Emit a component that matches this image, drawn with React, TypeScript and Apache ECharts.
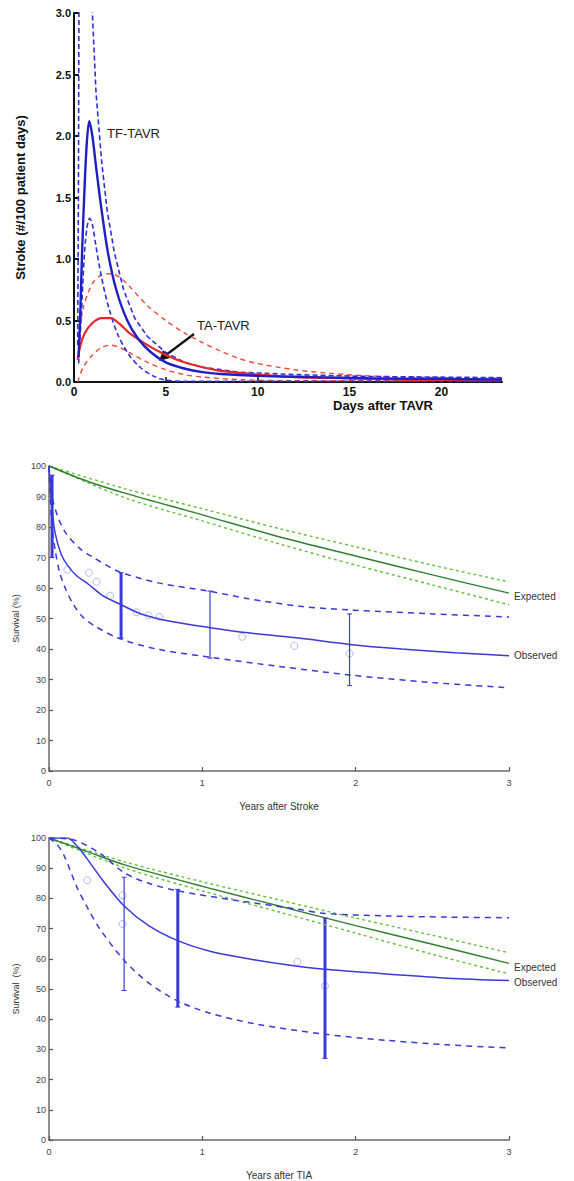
import React, { useEffect, useRef } from "react";
import * as echarts from "echarts";

// ---------- Top chart: stroke hazard (days after TAVR) ----------
const TOP_X_TICKS = [0, 5, 10, 15, 20];
const TF_MEAN = [[0.25,0.2],[0.35,0.6],[0.45,1.1],[0.58,1.6],[0.7,1.95],[0.83,2.12],[1.0,2.0],[1.2,1.75],[1.5,1.4],[1.85,1.05],[2.3,0.75],[2.9,0.5],[3.5,0.35],[4.2,0.24],[5,0.16],[6,0.11],[7,0.08],[8,0.065],[10,0.05],[13,0.04],[16,0.03],[20,0.025],[23.3,0.02]];
const TF_UPPER = [[0.2,0.3],[0.24,1.5],[0.28,3.6],[0.4,6],[0.8,6],[0.95,3.4],[1.0,3.0],[1.2,2.35],[1.5,1.8],[1.8,1.4],[2.2,1.05],[2.7,0.75],[3.3,0.52],[4,0.37],[5,0.24],[6,0.16],[7,0.12],[9,0.08],[12,0.06],[16,0.045],[23.3,0.035]];
const TF_LOWER = [[0.25,0.15],[0.4,0.55],[0.55,1.0],[0.7,1.25],[0.85,1.33],[1.0,1.28],[1.2,1.1],[1.5,0.85],[1.9,0.6],[2.4,0.38],[3,0.22],[3.6,0.12],[4.3,0.05],[5,0.015],[6,0.005],[23.3,0.005]];
const TA_MEAN = [[0.2,0.18],[0.35,0.3],[0.6,0.4],[1,0.48],[1.5,0.52],[2,0.52],[2.5,0.47],[3,0.4],[4,0.3],[5,0.22],[6,0.16],[7,0.12],[8,0.09],[10,0.06],[12,0.04],[15,0.03],[18,0.02],[23.3,0.015]];
const TA_UPPER = [[0.2,0.3],[0.5,0.6],[1,0.8],[1.5,0.87],[2,0.88],[2.5,0.85],[3,0.78],[4,0.62],[5,0.5],[6,0.4],[7,0.32],[8,0.25],[9,0.19],[10,0.15],[12,0.1],[14,0.07],[16,0.05],[18,0.04],[23.3,0.03]];
const TA_LOWER = [[0.2,0.0],[0.5,0.12],[1,0.22],[1.5,0.28],[2,0.3],[2.5,0.28],[3,0.24],[4,0.16],[5,0.1],[6,0.06],[7,0.04],[9,0.02],[12,0.01],[23.3,0.01]];

// ---------- Middle chart: survival after stroke ----------
const MID_EXPECTED = [[0,100],[0.25,95],[0.5,91],[1,84],[1.5,76.8],[2,70.5],[2.5,64.3],[3,58.3]];
const MID_EXP_UP = [[0,100],[0.5,92.5],[1,86],[1.5,79.5],[2,73.5],[2.5,67.5],[3,62]];
const MID_EXP_LO = [[0,100],[0.5,89.5],[1,82],[1.5,74.5],[2,67.5],[2.5,61],[3,54.5]];
const MID_OBS = [[0,100],[0.01,92],[0.02,86],[0.04,78],[0.08,71],[0.12,67.5],[0.18,64],[0.25,61.5],[0.35,57.5],[0.45,55],[0.6,51.5],[0.8,49],[1.05,47],[1.3,45.3],[1.64,43.5],[1.96,41.5],[2.3,40],[2.65,38.8],[3,37.8]];
const MID_OBS_UP = [[0,100],[0.02,90],[0.06,83],[0.11,78],[0.2,73],[0.29,70],[0.45,65.5],[0.72,61.6],[1.04,59],[1.3,56.5],[1.64,54],[1.96,52.8],[2.5,51.5],[3,50.5]];
const MID_OBS_LO = [[0,100],[0.01,88],[0.02,80],[0.04,72.5],[0.07,65],[0.11,59.5],[0.16,54.5],[0.22,50.5],[0.3,47.5],[0.45,43.6],[0.7,40],[1.05,37.3],[1.5,34.3],[1.96,31.5],[2.5,29],[3,27.3]];
const MID_ERR_THICK = [[0.02,70,97],[0.47,43.5,65]];
const MID_ERR_THIN = [[1.05,37,59],[1.96,28,51.5]];
const MID_POINTS = [[0.12,66],[0.26,65],[0.31,62],[0.4,57.5],[0.57,52],[0.65,51],[0.72,50.5],[1.26,44],[1.6,41],[1.96,38.5]];

// ---------- Bottom chart: survival after TIA ----------
const BOT_EXPECTED = [[0,100],[0.25,95.5],[0.5,91],[1,84],[1.5,77.5],[2,71],[2.5,64.8],[3,58.5]];
const BOT_EXP_UP = [[0,100],[0.5,92],[1,85.5],[1.5,79.5],[2,73.5],[2.5,67.8],[3,62]];
const BOT_EXP_LO = [[0,100],[0.5,90],[1,82.5],[1.5,75.5],[2,68.5],[2.5,61.5],[3,55]];
const BOT_OBS = [[0,100],[0.12,100],[0.18,97.5],[0.25,93],[0.35,86],[0.49,77.5],[0.65,71],[0.84,66],[1.05,62.5],[1.3,60],[1.55,58],[1.8,56.5],[2.2,55],[2.6,53.6],[3,52.8]];
const BOT_OBS_UP = [[0,100],[0.15,99.5],[0.33,95],[0.49,88.5],[0.65,85],[0.84,82.5],[1.2,79.5],[1.64,76.3],[1.8,75],[2.2,74.2],[2.6,73.8],[3,73.6]];
const BOT_OBS_LO = [[0,100],[0.05,98],[0.1,94],[0.18,84],[0.25,77],[0.33,70],[0.49,59.5],[0.65,52],[0.84,46],[1.05,42],[1.35,38.4],[1.8,35],[2.2,33],[2.6,31.5],[3,30.5]];
const BOT_ERR_THIN = [[0.49,49.5,87]];
const BOT_ERR_THICK = [[0.84,44,83],[1.8,27,73.5]];
const BOT_POINTS = [[0.25,86],[0.48,81],[0.48,71.5],[1.62,59],[1.8,51]];

const BLUE_TOP = "#1f1fc4";
const BLUE_DASH_TOP = "#2e2ed8";
const RED = "#e8262a";
const RED_DASH = "#ee4a3a";
const BLUE = "#3a3ad6";
const GREEN = "#2f7f2f";
const GREEN_DOT = "#66c040";
const FONT = "Liberation Sans";

function line(data: number[][], gi: number, color: string, width: number, type: any, extra: any = {}) {
  return {
    type: "line",
    xAxisIndex: gi,
    yAxisIndex: gi,
    data,
    symbol: "none",
    smooth: 0.3,
    silent: true,
    lineStyle: { color, width, type },
    ...extra,
  };
}

function errBars(data: number[][], gi: number, width: number) {
  return {
    type: "custom",
    xAxisIndex: gi,
    yAxisIndex: gi,
    data,
    silent: true,
    z: 3,
    encode: { x: 0, y: [1, 2] },
    renderItem: (params: any, api: any) => {
      const x = api.value(0);
      const p1 = api.coord([x, api.value(1)]);
      const p2 = api.coord([x, api.value(2)]);
      const st = { stroke: BLUE, lineWidth: width };
      const cap = { stroke: BLUE, lineWidth: 1 };
      return {
        type: "group",
        children: [
          { type: "line", shape: { x1: p1[0], y1: p1[1], x2: p2[0], y2: p2[1] }, style: st },
          { type: "line", shape: { x1: p1[0] - 2.5, y1: p1[1], x2: p1[0] + 2.5, y2: p1[1] }, style: cap },
          { type: "line", shape: { x1: p2[0] - 2.5, y1: p2[1], x2: p2[0] + 2.5, y2: p2[1] }, style: cap },
        ],
      };
    },
  };
}

function points(data: number[][], gi: number) {
  return {
    type: "scatter", xAxisIndex: gi, yAxisIndex: gi, data, symbol: "circle", symbolSize: 7, silent: true, z: 1,
    itemStyle: { color: "rgba(0,0,0,0)", borderColor: "#a2a6ec", borderWidth: 1 },
  };
}

function survAxes(gi: number, xName: string, yName: string) {
  const common = {
    axisLine: { show: true, lineStyle: { color: "#6a6a6a", width: 1.5 } },
    axisTick: { show: true, inside: true, length: 4, lineStyle: { color: "#555", width: 1.2 } },
    splitLine: { show: false },
    axisLabel: { color: "#444", fontSize: 9, fontFamily: FONT },
  };
  return {
    x: {
      ...common,
      gridIndex: gi,
      type: "value",
      min: 0,
      max: 3,
      interval: 1,
      name: xName,
      nameLocation: "middle",
      nameGap: 30,
      nameTextStyle: { color: "#333", fontSize: 10, fontFamily: FONT },
      axisLabel: { ...common.axisLabel, margin: 7 },
    },
    y: {
      ...common,
      gridIndex: gi,
      type: "value",
      min: 0,
      max: 100,
      interval: 10,
      name: yName,
      nameLocation: "middle",
      nameGap: 28,
      nameTextStyle: { color: "#333", fontSize: 9, fontFamily: FONT },
      axisLabel: { ...common.axisLabel, margin: 3 },
    },
  };
}

export default function App() {
  const ref = useRef<HTMLDivElement>(null);
  useEffect(() => {
    document.body.style.margin = "0";
    const chart = echarts.init(ref.current!, null, { renderer: "svg" });
    const mid = survAxes(1, "Years after Stroke", "Survival (%)");
    const bot = survAxes(2, "Years after TIA", "Survival  (%)");
    const endLbl = (text: string, dy = 0) => ({
      endLabel: { show: true, formatter: text, color: "#333", fontSize: 10, fontFamily: FONT, distance: 5, offset: [0, dy] },
    });
    const option: any = {
      animation: false,
      backgroundColor: "#ffffff",
      grid: [
        { left: 74, top: 13, width: 428, height: 369 },
        { left: 49, top: 466, width: 460, height: 305 },
        { left: 49, top: 838, width: 460, height: 307 },
      ],
      xAxis: [
        {
          gridIndex: 0,
          type: "value",
          min: 0,
          max: 23.3,
          axisLine: { show: true, lineStyle: { color: "#111", width: 2 } },
          axisTick: { show: true, inside: true, length: 5, customValues: TOP_X_TICKS, lineStyle: { color: "#111", width: 1.5 } },
          axisLabel: { customValues: TOP_X_TICKS, color: "#111", fontSize: 12, fontWeight: "bold", fontFamily: FONT, margin: 4 },
          splitLine: { show: false },
        },
        mid.x,
        bot.x,
      ],
      yAxis: [
        {
          gridIndex: 0,
          type: "value",
          min: 0,
          max: 3,
          interval: 0.5,
          axisLine: { show: true, lineStyle: { color: "#111", width: 2 } },
          axisTick: { show: true, inside: true, length: 5, lineStyle: { color: "#111", width: 2 } },
          axisLabel: { color: "#111", fontSize: 11, fontWeight: "bold", fontFamily: FONT, margin: 3, formatter: (v: number) => v.toFixed(1) },
          splitLine: { show: false },
          name: "Stroke (#/100 patient days)",
          nameLocation: "middle",
          nameGap: 47,
          nameTextStyle: { color: "#111", fontSize: 13, fontWeight: "bold", fontFamily: FONT },
        },
        mid.y,
        bot.y,
      ],
      graphic: [
        { type: "text", left: 107, top: 127, style: { text: "TF-TAVR", fill: "#222", fontSize: 13, fontFamily: FONT } },
        { type: "text", left: 197, top: 319, style: { text: "TA-TAVR", fill: "#222", fontSize: 13, fontFamily: FONT } },
        { type: "line", shape: { x1: 194, y1: 334, x2: 166, y2: 355 }, style: { stroke: "#111", lineWidth: 2.2 } },
        { type: "polygon", shape: { points: [[159, 361], [163, 350], [170, 358]] }, style: { fill: "#111" } },
        { type: "text", left: 333, top: 399, style: { text: "Days after TAVR", fill: "#111", fontSize: 13, fontWeight: "bold", fontFamily: FONT } },
      ],
      series: [
        // top chart
        line(TA_UPPER, 0, RED_DASH, 1.4, [5, 4]),
        line(TA_LOWER, 0, RED_DASH, 1.4, [5, 4]),
        line(TF_UPPER, 0, BLUE_DASH_TOP, 1.6, [5, 3], { smooth: false }),
        line(TF_LOWER, 0, BLUE_DASH_TOP, 1.6, [5, 3]),
        line(TA_MEAN, 0, RED, 2.2, "solid"),
        line(TF_MEAN, 0, BLUE_TOP, 2.4, "solid"),
        // middle chart
        line(MID_EXP_UP, 1, GREEN_DOT, 1.4, [3, 3]),
        line(MID_EXP_LO, 1, GREEN_DOT, 1.4, [3, 3]),
        line(MID_EXPECTED, 1, GREEN, 1.4, "solid", endLbl("Expected", 3)),
        line(MID_OBS_UP, 1, BLUE, 1.5, [6, 5]),
        line(MID_OBS_LO, 1, BLUE, 1.5, [6, 5]),
        line(MID_OBS, 1, BLUE, 1.5, "solid", endLbl("Observed")),
        points(MID_POINTS, 1),
        errBars(MID_ERR_THICK, 1, 3),
        errBars(MID_ERR_THIN, 1, 1.2),
        // bottom chart
        line(BOT_EXP_UP, 2, GREEN_DOT, 1.4, [3, 3]),
        line(BOT_EXP_LO, 2, GREEN_DOT, 1.4, [3, 3]),
        line(BOT_EXPECTED, 2, GREEN, 1.4, "solid", endLbl("Expected", 4)),
        line(BOT_OBS_UP, 2, BLUE, 1.5, [6, 5]),
        line(BOT_OBS_LO, 2, BLUE, 1.5, [6, 5]),
        line(BOT_OBS, 2, BLUE, 1.5, "solid", endLbl("Observed", 2)),
        points(BOT_POINTS, 2),
        errBars(BOT_ERR_THIN, 2, 1.2),
        errBars(BOT_ERR_THICK, 2, 3),
      ],
    };
    chart.setOption(option);
    return () => chart.dispose();
  }, []);
  return <div ref={ref} style={{ width: 574, height: 1181 }} />;
}
